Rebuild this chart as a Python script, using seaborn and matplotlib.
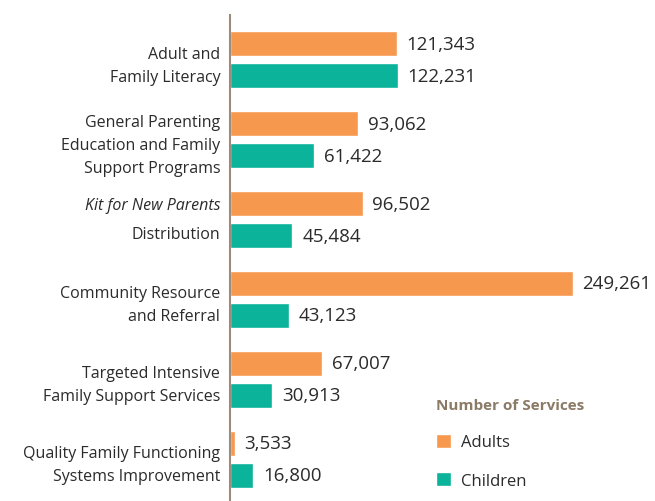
import pandas as pd
import seaborn as sns
import matplotlib.pyplot as plt
from matplotlib.transforms import ScaledTranslation

# Service categories (tick labels)
categories = [
    "Adult and\nFamily Literacy",
    "General Parenting\nEducation and Family\nSupport Programs",
    "Kit for New Parents Distribution",
    "Community Resource\nand Referral",
    "Targeted Intensive\nFamily Support Services",
    "Quality Family Functioning\nSystems Improvement",
]
adults = [121343, 93062, 96502, 249261, 67007, 3533]
children = [122231, 61422, 45484, 43123, 30913, 16800]
series_names = ["Adults", "Children"]
colors = ["#F7984F", "#0BB39A"]

df = pd.DataFrame({
    "category": categories * 2,
    "group": [series_names[0]] * len(categories) + [series_names[1]] * len(categories),
    "value": adults + children,
})

sns.set_style("white")
plt.rcParams["font.family"] = ["Open Sans", "DejaVu Sans"]

fig = plt.figure(figsize=(6.55, 5.02), dpi=100)
ax = fig.add_axes([230 / 655, 0, 425 / 655, 1 - 16 / 502])

sns.barplot(data=df, y="category", x="value", hue="group", orient="h",
            palette=colors, width=0.8, gap=0.22, ax=ax, saturation=1)

ax.set_xlim(0, 309300)
ax.set_ylim(5.525, -0.5625)
ax.set_xlabel("")
ax.set_ylabel("")
ax.set_xticks([])

for s in ["top", "right", "bottom"]:
    ax.spines[s].set_visible(False)
ax.spines["left"].set_color("#9C8C7C")
ax.spines["left"].set_linewidth(1.5)

ax.tick_params(axis="y", length=0, pad=7, labelsize=11.5, labelcolor="#2b2b2b")
ticklabels = [c if not c.startswith("Kit") else "" for c in categories]
ax.set_yticks(range(len(categories)))
ax.set_yticklabels(ticklabels)
for lbl in ax.get_yticklabels():
    lbl.set_multialignment("right")
    lbl.set_linespacing(1.55)

# the Kit label: first part in italics, drawn as two lines
kit_y = categories.index("Kit for New Parents Distribution")
for txt, dy, style in [("Kit for New Parents", 10.5, "italic"), ("Distribution", -10.5, "normal")]:
    tr = ax.get_yaxis_transform() + ScaledTranslation(-7 / 72, dy / 72, fig.dpi_scale_trans)
    ax.text(0, kit_y, txt, transform=tr, fontsize=11.5, style=style,
            color="#2b2b2b", ha="right", va="center")

for cont in ax.containers:
    labels = [f"{v:,.0f}" for v in cont.datavalues]
    ax.bar_label(cont, labels=labels, padding=7, fontsize=13.5, color="#2b2b2b")

sns.move_legend(ax, loc="upper left", bbox_to_anchor=(421 / 655, 1 - 384 / 502),
                bbox_transform=fig.transFigure, frameon=False, title="Number of Services",
                handlelength=0.9, handleheight=0.9, labelspacing=1.3,
                handletextpad=0.6, fontsize=12, alignment="left")
leg = ax.get_legend()
leg.get_title().set_fontweight("bold")
leg.get_title().set_color("#8B7A66")
leg.get_title().set_fontsize(11)
for t in leg.get_texts():
    t.set_color("#2b2b2b")

fig.savefig("out.png", dpi=100)
